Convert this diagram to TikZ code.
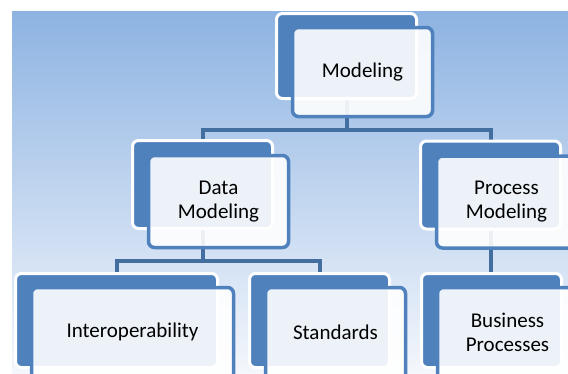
\documentclass[tikz,border=0pt]{standalone}
\usepackage{fontspec}
\setmainfont{Carlito}
\usetikzlibrary{backgrounds}
\definecolor{box}{RGB}{79,129,189}
\definecolor{wire}{RGB}{66,110,160}
\definecolor{sky}{RGB}{141,179,226}
\definecolor{skymid}{RGB}{186,204,234}
\definecolor{skylow}{RGB}{244,247,252}
\tikzset{
    % Dark box behind each label
    shadowbox/.style={
        draw=white,
        fill=box,
        line width=3pt,
        rounded corners=6pt,
        inner sep=0pt,
        minimum width=140pt,
        minimum height=88pt,
    },
    % Light label box, shifted down and right
    labelbox/.style={
        draw=box,
        fill=white,
        fill opacity=0.9,
        text opacity=1,
        line width=3.5pt,
        rounded corners=6pt,
        minimum width=140pt,
        minimum height=88pt,
        align=center,
        font=\fontsize{21}{24}\selectfont,
        xshift=16pt,
        yshift=-14pt,
    },
    % Connector
    conn/.style={
        draw=wire,
        line width=4pt,
    },
}

\begin{document}
\begin{tikzpicture}[x=1pt,y=-1pt]
    \useasboundingbox (0,0) rectangle (568,373);

    % Back boxes
    \node[shadowbox,minimum height=85pt] (Mod) at (346.5,56) {};
    \node[shadowbox] (DM) at (202.5,184.5) {};
    \node[shadowbox] (PM) at (490.5,185) {};
    \node[shadowbox,minimum width=202pt,minimum height=94pt] (Int) at (116.5,320.5) {};
    \node[shadowbox,minimum height=94pt] (Std) at (319.5,320.5) {};
    \node[shadowbox,minimum height=94pt] (Bus) at (491.5,320.5) {};

    % Label boxes
    \node[labelbox,minimum height=89pt,yshift=-2pt] (ModF) at (Mod) {Modeling};
    \node[labelbox,minimum height=92pt,yshift=-3pt] (DMF) at (DM) {Data\\Modeling};
    \node[labelbox,minimum height=92pt,yshift=-3pt] (PMF) at (PM) {Process\\Modeling};
    \node[labelbox,minimum width=202pt,minimum height=100pt,yshift=-3pt,text depth=14pt] (IntF) at (Int) {Interoperability};
    \node[labelbox,minimum height=100pt,yshift=-3pt,text depth=10pt] (StdF) at (Std) {Standards};
    \node[labelbox,minimum height=100pt,yshift=-3pt,text depth=10pt] (BusF) at (Bus) {Business\\Processes};

    % Background and connectors
    \begin{scope}[on background layer]
        \fill[top color=sky, middle color=skymid, bottom color=skylow] (12,11) rectangle (568,373);
        \draw[conn] (Mod.south) -- ++(0,30) -| (DM.north);
        \draw[conn] (Mod.south) -- ++(0,30) -| (PM.north);
        \draw[conn] (DM.south) -- ++(0,31) -| (Int.north);
        \draw[conn] (DM.south) -- ++(0,31) -| (Std.north);
        \draw[conn] (PM.south) -- (PM.south |- Bus.north);
    \end{scope}
\end{tikzpicture}
\end{document}
